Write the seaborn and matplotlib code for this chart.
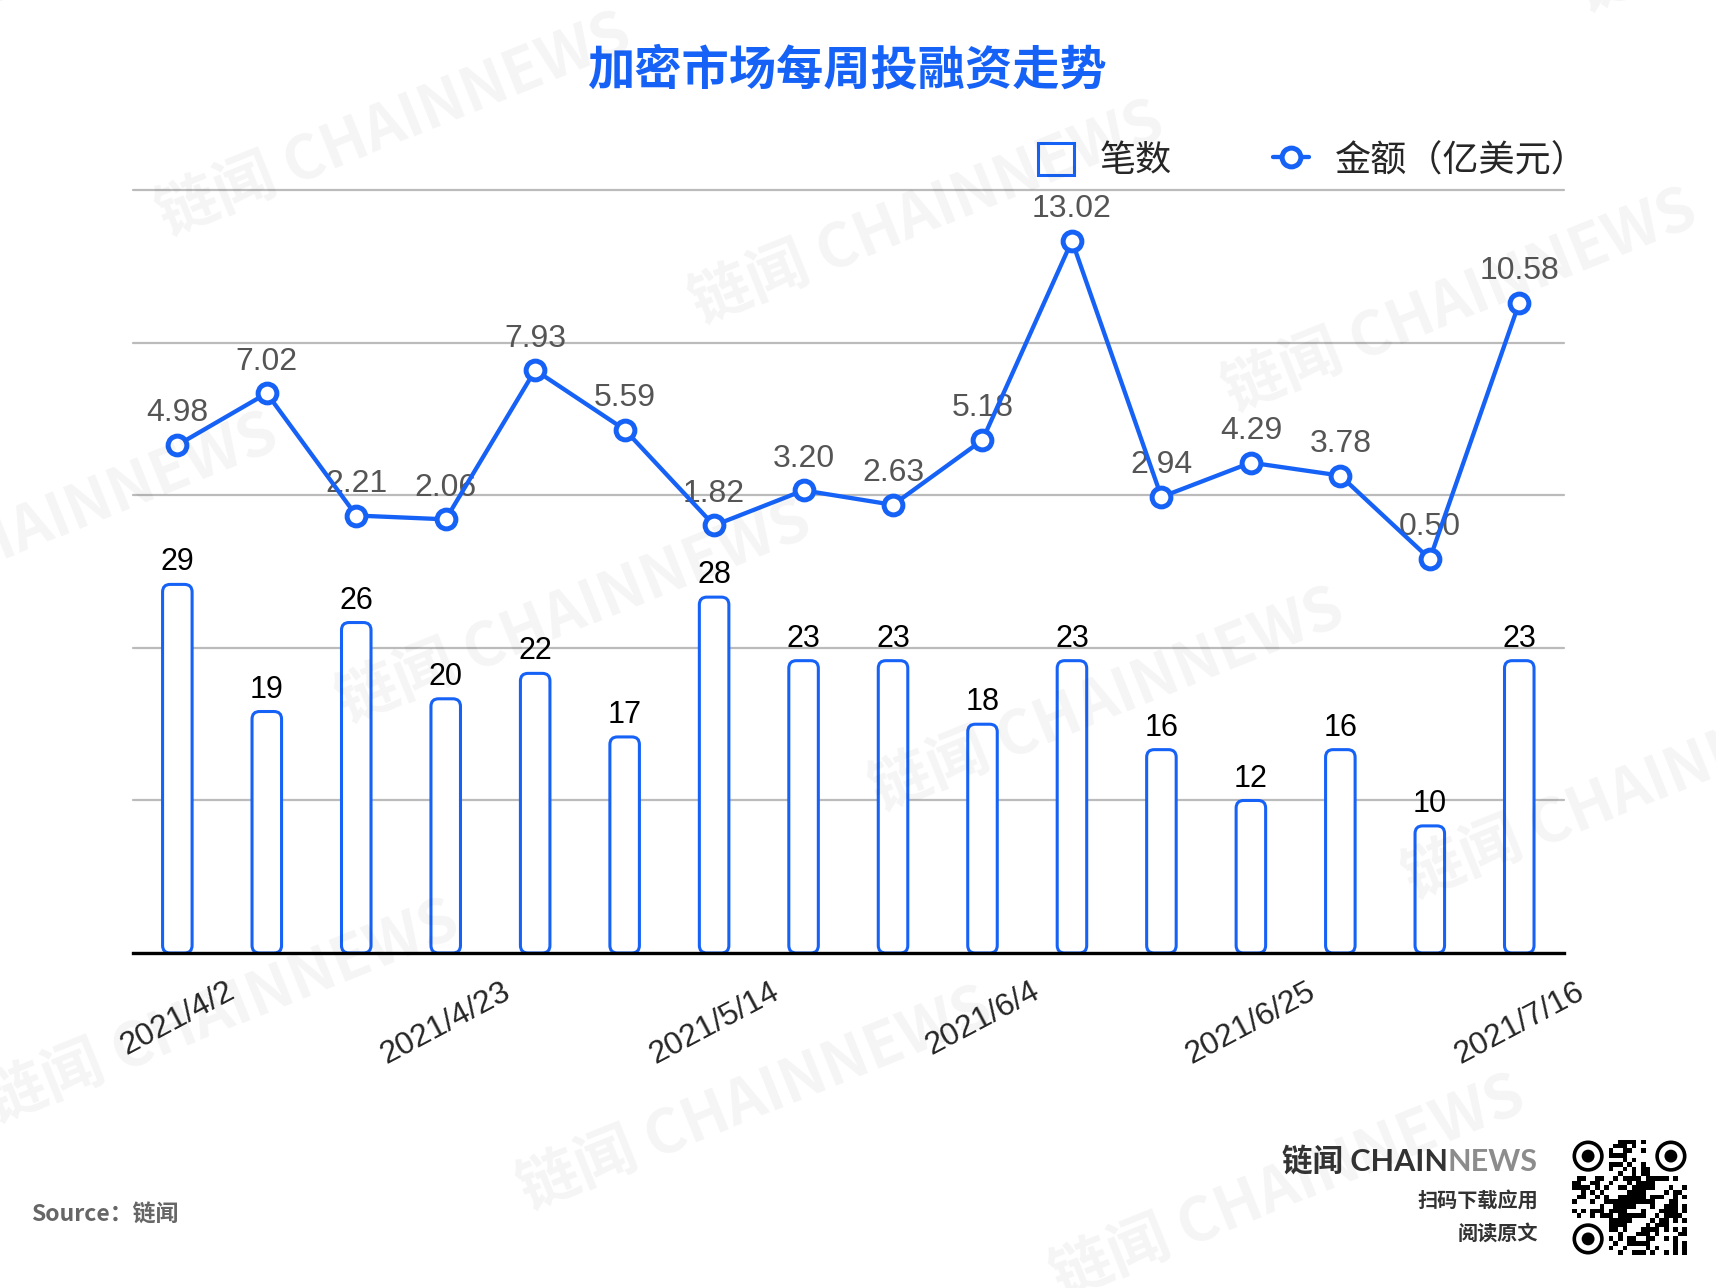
import numpy as np
import pandas as pd
import matplotlib
matplotlib.use('Agg')
import matplotlib.pyplot as plt
from matplotlib.patches import FancyBboxPatch, Circle
import seaborn as sns

# weekly data
weeks = ['2021/4/2', '2021/4/9', '2021/4/16', '2021/4/23', '2021/4/30', '2021/5/7',
         '2021/5/14', '2021/5/21', '2021/5/28', '2021/6/4', '2021/6/11', '2021/6/18',
         '2021/6/25', '2021/7/2', '2021/7/9', '2021/7/16']
deal_counts = [29, 19, 26, 20, 22, 17, 28, 23, 23, 18, 23, 16, 12, 16, 10, 23]
amounts = [4.98, 7.02, 2.21, 2.06, 7.93, 5.59, 1.82, 3.20, 2.63, 5.18,
           13.02, 2.94, 4.29, 3.78, 0.50, 10.58]
shown_ticks = ['2021/4/2', '2021/4/23', '2021/5/14', '2021/6/4', '2021/6/25', '2021/7/16']

title = '加密市场每周投融资走势'
count_label = '笔数'
amount_label = '金额（亿美元）'
source_text = 'Source：链闻'
watermark = '链闻 CHAINNEWS'

BLUE = '#1762F6'
GRID = '#BBBBBB'
W, H = 1716, 1288

sns.set_theme(style='white')
plt.rcParams['font.family'] = ['Liberation Sans', 'Noto Sans CJK SC', 'DejaVu Sans']
CJK = ['Noto Sans CJK SC', 'Liberation Sans', 'DejaVu Sans']

df = pd.DataFrame({'week': weeks, 'count': deal_counts, 'amount': amounts})
df['pos'] = np.arange(len(df))

fig = plt.figure(figsize=(W / 100, H / 100), dpi=100)
ax = fig.add_axes([132.6 / W, 1 - 953 / H, (1564 - 132.6) / W, (953 - 190.4) / H])

#   bars: number of deals
sns.barplot(data=df, x='week', y='count', ax=ax, color='white', saturation=1,
            edgecolor=BLUE, linewidth=2.2, width=0.33)
bars = ax.containers[0]
ax.bar_label(bars, padding=5, fontsize=22, color='black')
ax.set_ylim(0, 60)
ax.set_xlim(-0.5, len(weeks) - 0.5)

# swap the plain rectangles for rounded ones
px_x = (1564 - 132.6) / len(weeks)
px_y = (953 - 190.4) / 60
for p in bars.patches:
    rb = FancyBboxPatch((p.get_x(), p.get_y()), p.get_width(), p.get_height(),
                        boxstyle='round,pad=0,rounding_size=0.085',
                        mutation_aspect=px_x / px_y,
                        facecolor='white', edgecolor=BLUE, linewidth=2.2, zorder=2)
    ax.add_patch(rb)
    p.remove()

ax.set_yticks([0, 12, 24, 36, 48, 60])
ax.set_yticklabels([])
ax.yaxis.grid(True, color=GRID, linewidth=1.6)
ax.xaxis.grid(False)
ax.set_axisbelow(True)
for gl in ax.get_ygridlines():
    gl.set_clip_on(False)
for s in ['top', 'left', 'right']:
    ax.spines[s].set_visible(False)
ax.spines['bottom'].set_color('black')
ax.spines['bottom'].set_linewidth(2.4)
ax.spines['bottom'].set_zorder(3)
ax.set_xticks([weeks.index(t) for t in shown_ticks])
ax.set_xticklabels(shown_ticks, rotation=28, ha='center', fontsize=23)
ax.tick_params(axis='both', length=0)
ax.tick_params(axis='x', pad=17)
ax.set_xlabel('')
ax.set_ylabel('')

#   line: amount raised
ax2 = ax.twinx()
sns.lineplot(data=df, x='pos', y='amount', ax=ax2, color=BLUE, linewidth=3.1,
             marker='o', markersize=13.5, markeredgewidth=3.6,
             markerfacecolor='white', markeredgecolor=BLUE, legend=False, zorder=3)
line = ax2.lines[0]
for x, v in zip(df['pos'], df['amount']):
    ax2.annotate(f'{v:.2f}', (x, v), xytext=(0, 17), textcoords='offset points',
                 ha='center', va='baseline', fontsize=23, color='#555555', zorder=1)
ax2.set_ylim(-15, 15)
ax2.set_xlim(-0.5, len(weeks) - 0.5)
ax2.set_yticks([])
ax2.set_ylabel('')
ax2.set_xlabel('')
for s in ax2.spines.values():
    s.set_visible(False)

#   title & legend
fig.text(846.5 / W, 1 - 71 / H, title, ha='center', va='center', fontsize=34,
         fontweight='bold', color=BLUE, family=CJK)
fig.legend([bars.patches[0], line], [count_label, amount_label],
           loc='center left', bbox_to_anchor=(1037.5 / W, 1 - 161 / H), ncol=2,
           frameon=False, handlelength=1.0, handleheight=1.0, handletextpad=0.72,
           columnspacing=2.8, borderpad=0, borderaxespad=0, numpoints=1,
           prop={'family': CJK, 'size': 26})

#   footer
fig.text(31 / W, 1 - 1215 / H, source_text, ha='left', va='center', fontsize=16.5,
         fontweight='bold', color='#666666', family=CJK)
logo_font = ['Lato', 'Noto Sans CJK SC', 'DejaVu Sans']
news = fig.text(1538 / W, 1 - 1162 / H, 'NEWS', ha='right', va='center', fontsize=22,
                fontweight='bold', color='#8C8C8C', family=logo_font)
ax.annotate('链闻 CHAIN', xy=(0, 0), xycoords=news, ha='right', va='bottom',
            fontsize=22, fontweight='bold', color='#333333', family=logo_font,
            annotation_clip=False)
fig.text(1538 / W, 1 - 1200 / H, '扫码下载应用', ha='right', va='center', fontsize=14.5,
         fontweight='bold', color='#333333', family=CJK)
fig.text(1538 / W, 1 - 1233 / H, '阅读原文', ha='right', va='center', fontsize=14.5,
         fontweight='bold', color='#333333', family=CJK)

# decorative qr code block
qr = fig.add_axes([1572 / W, 1 - 1255 / H, 115 / W, 115 / H])
qr_seed = 'https://www.chainnews.com/zh/articles/weekly-crypto-funding/'
bits = np.unpackbits(np.frombuffer((qr_seed * 3).encode(), dtype=np.uint8))
bits = bits[:25 * 25].reshape(25, 25).astype(float)
bits = np.where(np.add.outer(np.arange(25), np.arange(25)) % 3 == 0, 1 - bits, bits)
bits[:8, :8] = 0
bits[:8, -8:] = 0
bits[-8:, :8] = 0
qr.imshow(bits, cmap='gray_r', interpolation='nearest', extent=(0, 25, 25, 0))
for cx, cy in [(3.5, 3.5), (21.5, 3.5), (3.5, 21.5)]:
    qr.add_patch(Circle((cx, cy), 3.0, facecolor='none', edgecolor='black', linewidth=2.6))
    qr.add_patch(Circle((cx, cy), 1.4, facecolor='black', edgecolor='none'))
qr.set_xlim(0, 25)
qr.set_ylim(25, 0)
qr.axis('off')

# watermark lattice (faint, runs off the page edges like the original)
scale = W / 1568
origin = np.array([360, 115]) * scale
u = np.array([487, 80]) * scale
v = np.array([165, 445]) * scale
for i in range(-2, 4):
    for j in range(-1, 4):
        cx, cy = origin + i * u + j * v
        if -250 < cx < W + 250 and -120 < cy < H + 120:
            fig.text(cx / W, 1 - cy / H, watermark, rotation=22, rotation_mode='anchor',
                     ha='center', va='center', fontsize=44, fontweight='bold',
                     color='black', alpha=0.045, zorder=10, family=CJK)

fig.savefig('out.png', dpi=100)
